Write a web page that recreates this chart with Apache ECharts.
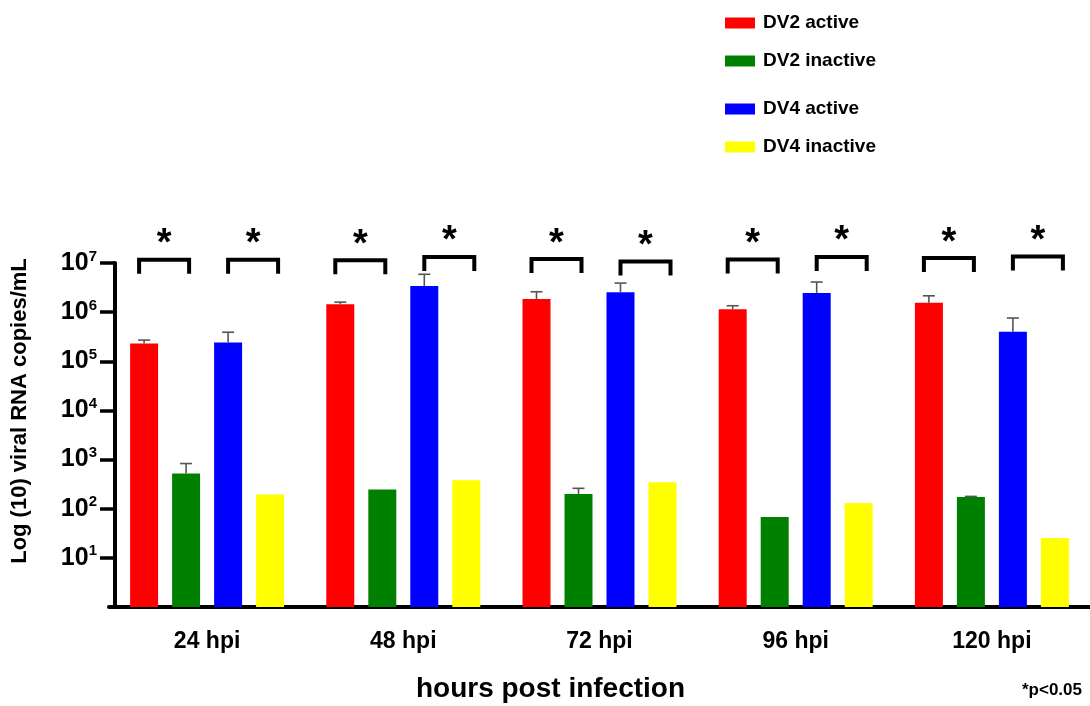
<!DOCTYPE html>
<html>
<head>
<meta charset="utf-8">
<script src="https://cdn.jsdelivr.net/npm/echarts@6/dist/echarts.min.js"></script>
<style>
  html, body { margin: 0; padding: 0; background: #fff; }
  #chart { width: 1090px; height: 706px; }
</style>
</head>
<body>
<div id="chart"></div>
<script>
// categories on the x axis
const timepoints = ['24 hpi', '48 hpi', '72 hpi', '96 hpi', '120 hpi'];
const seriesNames = ['DV2 active', 'DV2 inactive', 'DV4 active', 'DV4 inactive'];
const seriesColors = ['#ff0000', '#008000', '#0000ff', '#ffff00'];

// mean viral RNA copies/mL
const dv2Active = [2.3e5, 1.45e6, 1.85e6, 1.15e6, 1.55e6];
const dv2Inactive = [520, 245, 200, 68, 174];
const dv4Active = [2.4e5, 3.4e6, 2.55e6, 2.45e6, 4.0e5];
const dv4Inactive = [194, 380, 345, 131, 25.5];

// top of the error bars (null = no visible bar)
const dv2ActiveTop = [2.7e5, 1.6e6, 2.6e6, 1.35e6, 2.15e6];
const dv2InactiveTop = [830, null, 260, null, 178];
const dv4ActiveTop = [3.9e5, 5.9e6, 3.9e6, 4.1e6, 7.6e5];
const dv4InactiveTop = [null, null, null, null, null];

// significance brackets: height of each bracket (first pair, second pair)
const bracketLeft = [1.16e7, 1.14e7, 1.2e7, 1.18e7, 1.26e7];
const bracketRight = [1.16e7, 1.33e7, 1.07e7, 1.33e7, 1.35e7];

// y axis ticks
const yTicks = [10, 100, 1e3, 1e4, 1e5, 1e6, 1e7];

const FONT = '"Liberation Sans", Arial, Helvetica, sans-serif';
const BAR_W = 28;
const BAR_OFFSETS = [-63, -21, 21, 63];

const means = [dv2Active, dv2Inactive, dv4Active, dv4Inactive];
const tops = [dv2ActiveTop, dv2InactiveTop, dv4ActiveTop, dv4InactiveTop];

const errData = [];
tops.forEach((arr, s) => {
  arr.forEach((t, i) => {
    if (t != null) errData.push([i, s, means[s][i], t]);
  });
});

const bracketData = [];
timepoints.forEach((_, i) => {
  bracketData.push([i, 0, bracketLeft[i]]);
  bracketData.push([i, 1, bracketRight[i]]);
});

const chart = echarts.init(document.getElementById('chart'));

const barSeries = seriesNames.map((name, s) => ({
  name: name,
  type: 'bar',
  data: means[s],
  barWidth: BAR_W,
  barGap: '50%',
  itemStyle: { color: seriesColors[s] }
}));

const legendCommon = {
  orient: 'vertical',
  left: 720,
  itemWidth: 30,
  itemHeight: 11,
  itemGap: 18,
  icon: 'rect',
  selectedMode: false,
  textStyle: {
    fontFamily: FONT, fontSize: 19, fontWeight: 'bold', color: '#000',
    lineHeight: 20, padding: [0, 0, 0, 3]
  }
};

chart.setOption({
  animation: false,
  backgroundColor: '#fff',
  legend: [
    Object.assign({ top: 8, data: ['DV2 active', 'DV2 inactive'] }, legendCommon),
    Object.assign({ top: 94, data: ['DV4 active', 'DV4 inactive'] }, legendCommon)
  ],
  grid: { left: 109, right: -4, top: 263, bottom: 99, containLabel: false },
  xAxis: {
    type: 'category',
    data: timepoints,
    axisLine: { lineStyle: { color: '#000', width: 4 } },
    axisTick: { alignWithLabel: true, length: 11, lineStyle: { color: '#000', width: 3.5 } },
    axisLabel: { fontFamily: FONT, fontSize: 23, fontWeight: 'bold', color: '#000', margin: 23 },
    name: 'hours post infection',
    nameLocation: 'middle',
    nameGap: 68,
    nameTextStyle: {
      fontFamily: FONT, fontSize: 28, fontWeight: 'bold', color: '#000',
      padding: [0, 98, 0, 0]
    }
  },
  yAxis: {
    type: 'log',
    logBase: 10,
    min: 1,
    max: 1e7,
    offset: -6,
    splitLine: { show: false },
    axisLine: { show: true, lineStyle: { color: '#000', width: 4 } },
    axisTick: { show: true, length: 15, customValues: yTicks, lineStyle: { color: '#000', width: 3.5 } },
    axisLabel: {
      customValues: yTicks,
      margin: 18,
      formatter: function (v) {
        const e = Math.round(Math.log10(v));
        return '{b|10}{s|' + e + '}';
      },
      rich: {
        b: { fontFamily: FONT, fontSize: 25, fontWeight: 'bold', color: '#000', lineHeight: 28 },
        s: { fontFamily: FONT, fontSize: 15, fontWeight: 'bold', color: '#000', lineHeight: 15, verticalAlign: 'top' }
      }
    },
    name: 'Log (10) viral RNA copies/mL',
    nameLocation: 'middle',
    nameGap: 84,
    nameTextStyle: { fontFamily: FONT, fontSize: 22, fontWeight: 'bold', color: '#000', padding: [0, 0, 0, 48] }
  },
  graphic: [{
    type: 'text',
    right: 8,
    bottom: 7,
    style: { text: '*p<0.05', fontFamily: FONT, fontSize: 17, fontWeight: 'bold', fill: '#000' }
  }],
  series: barSeries.concat([
    {
      name: 'error',
      type: 'custom',
      data: errData,
      z: 3,
      renderItem: function (params, api) {
        const off = BAR_OFFSETS[api.value(1)];
        const p0 = api.coord([api.value(0), api.value(2)]);
        const p1 = api.coord([api.value(0), api.value(3)]);
        const x = p0[0] + off;
        const st = { stroke: '#555', lineWidth: 1.6 };
        return {
          type: 'group',
          children: [
            { type: 'line', shape: { x1: x, y1: p0[1], x2: x, y2: p1[1] }, style: st },
            { type: 'line', shape: { x1: x - 6, y1: p1[1], x2: x + 6, y2: p1[1] }, style: st }
          ]
        };
      }
    },
    {
      name: 'significance',
      type: 'custom',
      data: bracketData,
      clip: false,
      z: 3,
      renderItem: function (params, api) {
        const p = api.coord([api.value(0), api.value(2)]);
        const xc = p[0] + (api.value(1) === 0 ? -43 : 46);
        const y = p[1];
        return {
          type: 'group',
          children: [
            {
              type: 'polyline',
              shape: { points: [[xc - 25, y + 14], [xc - 25, y], [xc + 25, y], [xc + 25, y + 14]] },
              style: { stroke: '#000', lineWidth: 4, fill: null, lineJoin: 'miter' }
            },
            {
              type: 'text',
              style: {
                x: xc, y: y - 15, text: '*', align: 'center', verticalAlign: 'middle',
                fontFamily: FONT, fontSize: 38, fontWeight: 'bold', fill: '#000'
              }
            }
          ]
        };
      }
    }
  ])
});
</script>
</body>
</html>
